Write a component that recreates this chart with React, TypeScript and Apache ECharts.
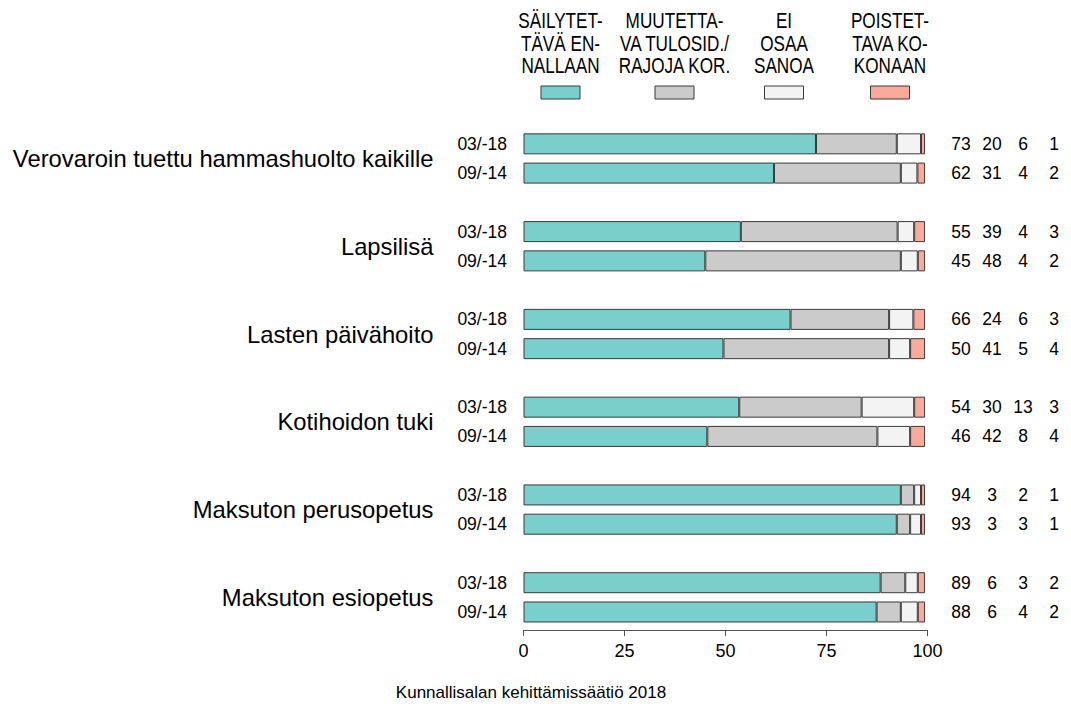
import React, { useEffect, useRef } from "react";
import * as echarts from "echarts";

const groups = [
  "Verovaroin tuettu hammashuolto kaikille",
  "Lapsilisä",
  "Lasten päivähoito",
  "Kotihoidon tuki",
  "Maksuton perusopetus",
  "Maksuton esiopetus",
];
const periods = ["03/-18", "09/-14"];

const seriesNames = [
  "Säilytettävä ennallaan",
  "Muutettava tulosid./rajoja kor.",
  "Ei osaa sanoa",
  "Poistettava kokonaan",
];
const legendLines = [
  ["SÄILYTET-", "TÄVÄ EN-", "NALLAAN"],
  ["MUUTETTA-", "VA TULOSID./", "RAJOJA KOR."],
  ["EI", "OSAA", "SANOA"],
  ["POISTET-", "TAVA KO-", "KONAAN"],
];
const colors = ["#7ACFCD", "#CBCBCB", "#F3F3F3", "#FAA99A"];

// bar lengths (order: group1 03/-18, group1 09/-14, group2 03/-18, ...)
const keep = [72.4, 62.0, 53.8, 45.0, 66.1, 49.5, 53.4, 45.5, 93.4, 92.4, 88.4, 87.4];
const modify = [20.0, 31.4, 38.8, 48.4, 24.4, 41.0, 30.3, 42.1, 3.3, 3.3, 6.1, 6.0];
const dontKnow = [6.0, 4.1, 4.1, 4.2, 6.0, 5.2, 13.0, 8.1, 1.7, 2.7, 3.1, 4.2];
const remove = [1.0, 1.9, 2.7, 1.8, 2.9, 3.7, 2.7, 3.7, 1.0, 1.0, 1.8, 1.8];

// printed (rounded) percentages
const lblKeep = [73, 62, 55, 45, 66, 50, 54, 46, 94, 93, 89, 88];
const lblModify = [20, 31, 39, 48, 24, 41, 30, 42, 3, 3, 6, 6];
const lblDontKnow = [6, 4, 4, 4, 6, 5, 13, 8, 2, 3, 3, 4];
const lblRemove = [1, 2, 3, 2, 3, 4, 3, 4, 1, 1, 2, 2];

const xTicks = [0, 25, 50, 75, 100];
const caption = "Kunnallisalan kehittämissäätiö 2018";

const FONT = "'Liberation Sans', Arial, Helvetica, sans-serif";

export default function App() {
  const ref = useRef<HTMLDivElement>(null);

  useEffect(() => {
    if (!ref.current) return;
    const chart = echarts.init(ref.current, undefined, { renderer: "svg" });

    const nSlots = groups.length * 3 - 1;
    const slotCats: string[] = [];
    const groupCats: string[] = [];
    for (let s = 0; s < nSlots; s++) {
      const g = Math.floor(s / 3);
      const p = s % 3;
      slotCats.push(p < 2 ? periods[p] : "");
      groupCats.push(p === 0 ? groups[g] : "");
    }
    const slotOf = (k: number) => Math.floor(k / 2) * 3 + (k % 2);

    const toSlots = (vals: number[]) => {
      const arr: any[] = new Array(nSlots).fill("-");
      vals.forEach((v, k) => (arr[slotOf(k)] = v));
      return arr;
    };

    const barVals = [keep, modify, dontKnow, remove];
    const lblVals = [lblKeep, lblModify, lblDontKnow, lblRemove];

    const gridTop = 129.2;
    const gridH = 497.4;

    const barSeries = barVals.map((vals, i) => ({
      type: "bar",
      name: seriesNames[i],
      stack: "total",
      xAxisIndex: 0,
      yAxisIndex: 0,
      barWidth: 21,
      data: toSlots(vals),
      itemStyle: { color: colors[i], borderColor: "#3a3a3a", borderWidth: 1 },
      emphasis: { disabled: true },
    }));

    const numSeries = lblVals.map((vals, i) => ({
      type: "scatter",
      xAxisIndex: 1,
      yAxisIndex: 2,
      symbol: "circle",
      symbolSize: 0.01,
      itemStyle: { color: "#fff" },
      data: vals.map((v, k) => [i, slotOf(k), v]),
      label: {
        show: true,
        position: "inside",
        formatter: (p: any) => String(p.data[2]),
        color: "#000",
        opacity: 1,
        textBorderWidth: 0,
        fontSize: 17.5,
        fontFamily: FONT,
      },
      emphasis: { disabled: true },
    }));

    const legendCenters = [560.5, 674.5, 784, 890];
    const graphics: any[] = [];
    legendLines.forEach((lines, i) => {
      lines.forEach((ln, j) => {
        graphics.push({
          type: "text",
          x: legendCenters[i],
          y: 20.5 + j * 22.3,
          scaleX: 0.78,
          style: {
            text: ln,
            fontSize: 22,
            fontFamily: FONT,
            fill: "#000",
            textAlign: "center",
            textVerticalAlign: "middle",
          },
        });
      });
      graphics.push({
        type: "rect",
        shape: { x: legendCenters[i] - 19.5, y: 86, width: 39, height: 13 },
        style: { fill: colors[i], stroke: "#3a3a3a", lineWidth: 1 },
      });
    });

    chart.setOption({
      animation: false,
      backgroundColor: "#fff",
      textStyle: { fontFamily: FONT },
      title: {
        text: caption,
        left: 526,
        top: 679,
        textAlign: "center",
        textStyle: { fontSize: 17, fontWeight: "normal", color: "#000", fontFamily: FONT },
      },
      grid: [
        { left: 523.5, top: gridTop, width: 404, height: gridH },
        { left: 961, top: gridTop, width: 93, height: gridH },
      ],
      xAxis: [
        {
          type: "value",
          gridIndex: 0,
          min: 0,
          max: 100,
          interval: 25,
          offset: 3.5,
          axisLine: { show: true, lineStyle: { color: "#555", width: 1 } },
          axisTick: { show: true, length: 6, lineStyle: { color: "#555" } },
          axisLabel: {
            color: "#000",
            fontSize: 18,
            margin: 12,
            fontFamily: FONT,
            formatter: (v: number) => (xTicks.includes(v) ? String(v) : ""),
          },
          splitLine: { show: false },
        },
        {
          type: "value",
          gridIndex: 1,
          min: 0,
          max: 3,
          show: false,
        },
      ],
      yAxis: [
        {
          type: "category",
          gridIndex: 0,
          inverse: true,
          data: slotCats,
          axisLine: { show: false },
          axisTick: { show: false },
          axisLabel: { interval: 0, color: "#000", fontSize: 17.5, margin: 16.5, fontFamily: FONT },
        },
        {
          type: "category",
          gridIndex: 0,
          position: "left",
          inverse: true,
          data: groupCats,
          axisLine: { show: false },
          axisTick: { show: false },
          axisLabel: {
            interval: 0,
            color: "#000",
            fontSize: 23.8,
            margin: 90,
            verticalAlign: "top",
            lineHeight: 29.26,
            fontFamily: FONT,
          },
        },
        {
          type: "category",
          gridIndex: 1,
          inverse: true,
          data: slotCats,
          show: false,
        },
      ],
      series: [...barSeries, ...numSeries],
      graphic: graphics,
    });

    return () => chart.dispose();
  }, []);

  return (
    <div
      ref={ref}
      style={{ position: "fixed", left: 0, top: 0, width: 1071, height: 704, background: "#fff" }}
    />
  );
}
